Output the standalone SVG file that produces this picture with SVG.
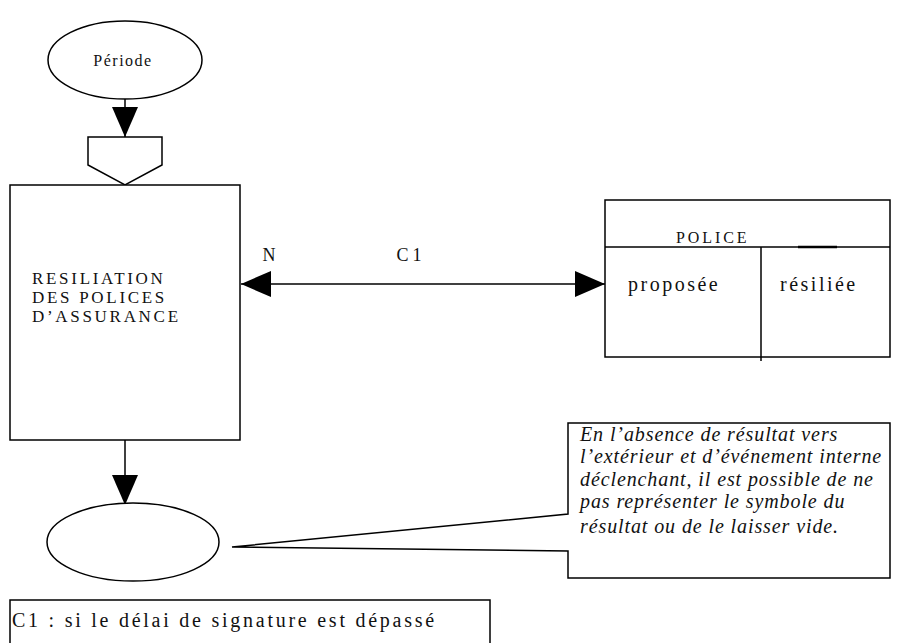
<svg xmlns="http://www.w3.org/2000/svg" width="902" height="643" viewBox="0 0 902 643">
  <style>
    .ln { fill: none; stroke: #000; stroke-width: 1.5; }
    .bx { fill: #fff; stroke: #000; stroke-width: 1.5; }
    .t { font-family: "Liberation Serif", "Times New Roman", serif; fill: #111; }
    .it { font-family: "Liberation Serif", "Times New Roman", serif; font-style: italic; fill: #111; font-size: 20px; letter-spacing: 0.9px; }
  </style>
  <defs>
    <marker id="arrow" viewBox="0 0 30 26" refX="30" refY="13" markerWidth="30" markerHeight="26" markerUnits="userSpaceOnUse" orient="auto-start-reverse">
      <path d="M0,0 L30,13 L0,26 Z" fill="#000"/>
    </marker>
  </defs>

  <rect width="902" height="643" fill="#fff"/>

  <!-- connectors -->
  <g id="connectors">
    <line class="ln" x1="125" y1="99" x2="125" y2="137" marker-end="url(#arrow)"/>
    <line class="ln" x1="125" y1="440" x2="125" y2="505" marker-end="url(#arrow)"/>
    <line class="ln" x1="241" y1="284" x2="605" y2="284" marker-start="url(#arrow)" marker-end="url(#arrow)"/>
    <text class="t" x="269" y="261" font-size="18" text-anchor="middle">N</text>
    <text class="t" x="411" y="261" font-size="18" text-anchor="middle" letter-spacing="4">C1</text>
  </g>

  <!-- start event -->
  <g id="periode">
    <ellipse class="bx" cx="125" cy="60" rx="77" ry="39"/>
    <rect x="180" y="70" width="4" height="4" fill="#fff"/>
    <text class="t" x="123" y="66" font-size="16" text-anchor="middle" letter-spacing="1.5">Période</text>
  </g>

  <!-- synchronisation -->
  <g id="synchro">
    <path class="bx" d="M88,137 H162 V165 L125,185 L88,165 Z"/>
  </g>

  <!-- operation -->
  <g id="operation">
    <rect class="bx" x="10" y="185" width="230" height="255"/>
    <text class="t" font-size="17" letter-spacing="2.7">
      <tspan x="32" y="284">RESILIATION</tspan>
      <tspan x="32" y="303">DES POLICES</tspan>
      <tspan x="32" y="322">D’ASSURANCE</tspan>
    </text>
  </g>

  <!-- business object -->
  <g id="police">
    <rect class="bx" x="605" y="200" width="285" height="157"/>
    <line class="ln" x1="605" y1="247" x2="890" y2="247"/>
    <line x1="798" y1="247" x2="837" y2="247" stroke="#000" stroke-width="2.5"/>
    <line class="ln" x1="761" y1="247" x2="761" y2="361"/>
    <text class="t" x="676" y="243" font-size="16" letter-spacing="2.9">POLICE</text>
    <text class="t" x="628" y="291" font-size="20" letter-spacing="2.5">proposée</text>
    <text class="t" x="780" y="291" font-size="20" letter-spacing="2.5">résiliée</text>
  </g>

  <!-- result -->
  <g id="resultat">
    <ellipse class="bx" cx="133" cy="542" rx="86" ry="39"/>
  </g>

  <!-- callout -->
  <g id="note">
    <path class="bx" d="M568,514 V423 H890 V578 H568 V551 L232,547 Z"/>
    <text class="it">
      <tspan x="580" y="441">En l’absence de résultat vers</tspan>
      <tspan x="580" y="463">l’extérieur et d’événement interne</tspan>
      <tspan x="580" y="486">déclenchant,  il est possible de ne</tspan>
      <tspan x="580" y="508">pas représenter le symbole du</tspan>
      <tspan x="580" y="533">résultat ou de le laisser vide.</tspan>
    </text>
  </g>

  <!-- condition legend -->
  <g id="legende">
    <rect class="bx" x="10" y="600" width="480" height="60"/>
    <text class="t" x="12" y="627" font-size="20" letter-spacing="2.75">C1 : si le délai de signature est dépassé</text>
  </g>
</svg>
